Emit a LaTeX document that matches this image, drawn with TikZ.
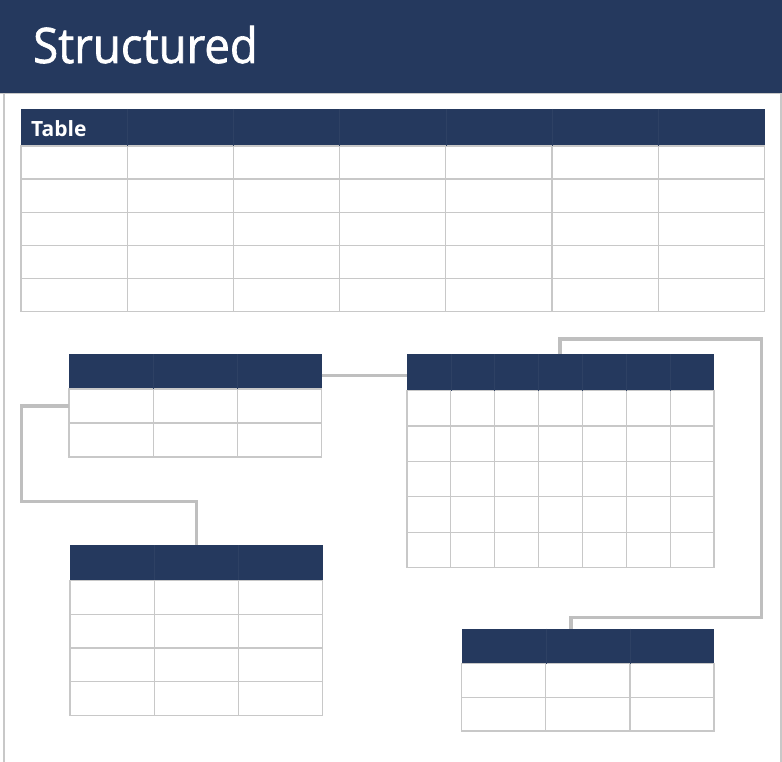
\documentclass[tikz,border=0pt]{standalone}
\usepackage{fontspec}
\setmainfont{Open Sans}
\newfontfamily\titlefont[FakeBold=1.3,FakeStretch=0.93]{Open Sans}
\usetikzlibrary{calc}
\definecolor{navy}{RGB}{37,57,94}
\definecolor{gridc}{RGB}{200,200,200}
\definecolor{linkc}{RGB}{191,191,191}
\tikzset{
  hdr/.style={fill=navy,draw=none,inner sep=0pt,outer sep=0pt,anchor=north west},
  bodybox/.style={fill=white,draw=gridc,line width=1.2pt,inner sep=0pt,outer sep=0pt,anchor=north west},
  gline/.style={draw=gridc,line width=1.2pt},
  hline/.style={draw=navy!96!white,line width=0.6pt},
  link/.style={draw=linkc,line width=3.5pt,line join=miter,line cap=butt},
  frame/.style={draw=gridc,line width=1.5pt}
}
% #1 name, #2 x0, #3 header top, #4 x1, #5 header bottom, #6 bottom, #7 cols, #8 rows
\newcommand\gridtable[8]{%
  \node[hdr,minimum width={(#4-#2)*1pt},minimum height={(#5-#3)*1pt}] (#1h) at (#2,#3) {};
  \node[bodybox,minimum width={(#4-#2)*1pt},minimum height={(#6-#5)*1pt}] (#1b) at (#2,#5) {};
  \pgfmathsetmacro\gdx{(#4-#2)/#7}
  \pgfmathsetmacro\gdy{(#6-#5)/#8}
  \pgfmathtruncatemacro\gnc{#7-1}
  \pgfmathtruncatemacro\gnr{#8-1}
  \foreach \k in {1,...,\gnc}{
    \draw[hline] ({#2+\k*\gdx},#3) -- ({#2+\k*\gdx},#5);
    \draw[gline] ({#2+\k*\gdx},#5) -- ({#2+\k*\gdx},#6);
  }
  \foreach \k in {1,...,\gnr}{
    \draw[gline] (#2,{#5+\k*\gdy}) -- (#4,{#5+\k*\gdy});
  }
}
\begin{document}
\begin{tikzpicture}[x=1pt,y=-1pt]
\useasboundingbox (0,0) rectangle (782,762);
% page frame
\fill[navy] (0,0) rectangle (782,93);
\draw[draw=gridc,line width=1.5pt] (0,93.5) -- (782,93.5);
\draw[frame] (4,94) -- (4,762);
\draw[frame] (781,94) -- (781,762);
\node[anchor=base west,text=white,inner sep=0pt,font=\fontsize{49}{49}\selectfont\titlefont] (title) at (33,63) {Structured};

% big table
\gridtable{T}{21}{109}{764.5}{146}{311.5}{7}{5}
\node[anchor=base west,text=white,inner sep=0pt,font=\fontsize{21}{21}\selectfont\bfseries] (tlabel) at (31,136.7) {Table};

% small tables
\gridtable{A}{69}{354}{321.5}{389}{457}{3}{2}
\gridtable{B}{407}{354}{714}{390.5}{567.5}{7}{5}
\gridtable{C}{70}{545}{322.7}{580.3}{715.7}{3}{4}
\gridtable{D}{461.7}{628.7}{714}{663.7}{731}{3}{2}

% connectors
\coordinate (k1) at (21.5,406.5);
\coordinate (k2) at (196.5,501.5);
\coordinate (k3) at (560,339);
\coordinate (k4) at (761.5,617.5);
\coordinate (k5) at (571,617.5);
\draw[link] ([yshift=-4pt]Ah.east) -- ([yshift=-4pt]Ah.east -| Bh.west);
\draw[link] ($(Ab.north west)!0.25!(Ab.south west)$) -| (k1) |- (k2) -- (k2 |- Ch.north);
\draw[link] (k3 |- Bh.north) -- (k3) -| (k4) -- (k5) -- (k5 |- Dh.north);
\end{tikzpicture}
\end{document}
